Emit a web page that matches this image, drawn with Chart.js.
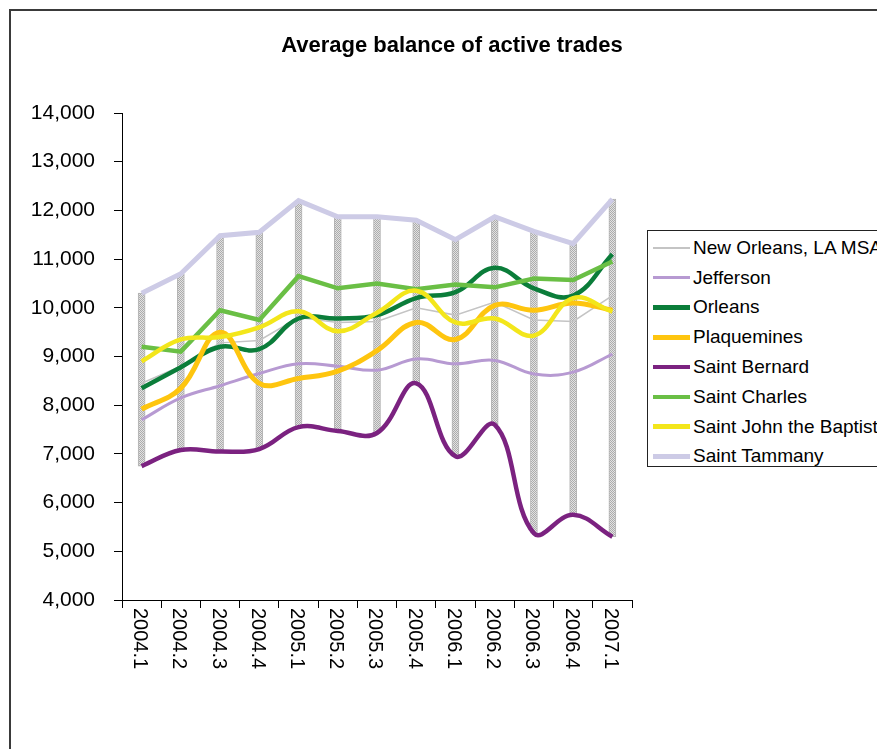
<!DOCTYPE html>
<html>
<head>
<meta charset="utf-8">
<title>Average balance of active trades</title>
<script src="https://cdn.jsdelivr.net/npm/chart.js@4/dist/chart.umd.min.js"></script>
<style>
  html, body { margin: 0; padding: 0; background: #fff; overflow: hidden; width: 877px; height: 749px; }
  #frame { position: absolute; left: 9px; top: 9px; width: 1000px; height: 1000px; border: 2px solid #3a3a3a; }
  #wrap { position: absolute; left: 0; top: 0; width: 900px; height: 780px; }
  #title { position: absolute; left: 0; top: 34px; width: 904px; text-align: center;
    font: bold 22px "Liberation Sans", Arial, sans-serif; line-height: 22px; color: #000; }
  #legend { position: absolute; left: 647px; top: 230px; width: 260px; height: 237px;
    border: 1px solid #222; background: #fff; padding-top: 2px; box-sizing: border-box;
    font: 19px "Liberation Sans", Arial, sans-serif; color: #000; }
  #legend .row { display: flex; align-items: center; height: 29.8px; white-space: nowrap; }
  #legend .swatch { width: 37px; margin-left: 5px; margin-right: 3px; }
</style>
</head>
<body>
<div id="frame"></div>
<div id="wrap"><canvas id="myChart" width="900" height="780"></canvas></div>
<div id="title">Average balance of active trades</div>
<div id="legend"></div>
<script>
const quarters = ['2004.1', '2004.2', '2004.3', '2004.4', '2005.1', '2005.2', '2005.3',
  '2005.4', '2006.1', '2006.2', '2006.3', '2006.4', '2007.1'];

const msa = [8450, 8800, 9280, 9330, 9800, 9700, 9720, 10000, 9850, 10120, 9750, 9720, 10250];
const jefferson = [7700, 8150, 8400, 8650, 8850, 8800, 8720, 8950, 8850, 8920, 8640, 8680, 9050];
const orleans = [8350, 8780, 9200, 9150, 9780, 9780, 9850, 10200, 10320, 10820, 10400, 10250, 11100];
const plaquemines = [7920, 8350, 9500, 8450, 8550, 8700, 9120, 9700, 9350, 10050, 9950, 10100, 9950];
const saintBernard = [6750, 7080, 7050, 7100, 7550, 7470, 7430, 8450, 6950, 7600, 5370, 5750, 5300];
const saintCharles = [9200, 9100, 9950, 9750, 10650, 10400, 10500, 10380, 10480, 10420, 10600, 10570, 10950];
const saintJohn = [8900, 9350, 9400, 9600, 9930, 9520, 9900, 10350, 9700, 9780, 9430, 10200, 9920];
const saintTammany = [10300, 10700, 11480, 11550, 12200, 11870, 11870, 11800, 11400, 11870, 11570, 11320, 12230];

const yTicks = { min: 4000, max: 14000, step: 1000 };

const series = [
  { label: 'New Orleans, LA MSA', data: msa, color: '#c4c4c4', width: 1.5, tension: 0 },
  { label: 'Jefferson', data: jefferson, color: '#b79ad2', width: 3, tension: 0.4 },
  { label: 'Orleans', data: orleans, color: '#0b7d3a', width: 4.5, tension: 0.4 },
  { label: 'Plaquemines', data: plaquemines, color: '#fec50f', width: 5, tension: 0.4 },
  { label: 'Saint Bernard', data: saintBernard, color: '#7b2280', width: 4.5, tension: 0.4 },
  { label: 'Saint Charles', data: saintCharles, color: '#6abf45', width: 4.5, tension: 0 },
  { label: 'Saint John the Baptist', data: saintJohn, color: '#f3e61b', width: 4.5, tension: 0.4 },
  { label: 'Saint Tammany', data: saintTammany, color: '#cdcbe6', width: 5, tension: 0 },
];

const FONT = '"Liberation Sans", Arial, sans-serif';

// high-low range per quarter
const ranges = quarters.map((q, i) => {
  const vals = series.map(s => s.data[i]);
  return [Math.min(...vals), Math.max(...vals)];
});

const makeHatch = () => {
  const c = document.createElement('canvas');
  c.width = 2;
  c.height = 2;
  const g = c.getContext('2d');
  g.fillStyle = '#e2e2e2';
  g.fillRect(0, 0, 2, 2);
  g.fillStyle = '#acacac';
  g.fillRect(0, 0, 1, 1);
  g.fillRect(1, 1, 1, 1);
  return g.createPattern(c, 'repeat');
};

// x labels read top-to-bottom, like the spreadsheet original
const downLabels = {
  id: 'downLabels',
  afterDraw(chart) {
    const scale = chart.scales.x;
    const { ctx } = chart;
    ctx.save();
    ctx.font = '20px ' + FONT;
    ctx.fillStyle = '#000';
    ctx.textAlign = 'left';
    ctx.textBaseline = 'middle';
    scale.ticks.forEach((tick, i) => {
      ctx.save();
      ctx.translate(scale.getPixelForTick(i) - 2, scale.top + 8);
      ctx.rotate(Math.PI / 2);
      ctx.fillText(scale.getLabelForValue(tick.value), 0, 0);
      ctx.restore();
    });
    ctx.restore();
  }
};

const datasets = series.map((s, i) => ({
  type: 'line',
  label: s.label,
  data: s.data,
  borderColor: s.color,
  backgroundColor: s.color,
  borderWidth: s.width,
  tension: s.tension,
  pointRadius: 0,
  fill: false,
  order: series.length - i,
}));

datasets.push({
  type: 'bar',
  label: 'range',
  data: ranges,
  backgroundColor: makeHatch(),
  borderColor: '#b4b4b4',
  borderWidth: 1,
  borderSkipped: false,
  barThickness: 7,
  order: 50,
});

new Chart(document.getElementById('myChart'), {
  data: { labels: quarters, datasets },
  options: {
    responsive: false,
    animation: false,
    devicePixelRatio: 1,
    layout: { padding: { left: 0, top: 113, right: 268, bottom: 0 } },
    plugins: {
      legend: { display: false },
      tooltip: { enabled: false },
    },
    scales: {
      x: {
        type: 'category',
        offset: true,
        grid: { display: true, drawOnChartArea: false, offset: true, tickLength: 8, color: '#000' },
        border: { display: true, color: '#000', width: 1 },
        ticks: { display: false },
        afterFit: (scale) => { scale.height = 180; },
      },
      y: {
        min: yTicks.min,
        max: yTicks.max,
        grid: { display: true, drawOnChartArea: false, tickLength: 8, color: '#000' },
        border: { display: true, color: '#000', width: 1 },
        ticks: {
          stepSize: yTicks.step,
          color: '#000',
          padding: 19,
          font: { size: 21, family: FONT },
          callback: (v) => v.toLocaleString('en-US'),
        },
        afterFit: (scale) => { scale.width = 122; },
      },
    },
  },
  plugins: [downLabels],
});

// legend box
const legend = document.getElementById('legend');
series.forEach((s) => {
  const row = document.createElement('div');
  row.className = 'row';
  const sw = document.createElement('span');
  sw.className = 'swatch';
  sw.style.height = s.width + 'px';
  sw.style.background = s.color;
  const txt = document.createElement('span');
  txt.textContent = s.label;
  row.append(sw, txt);
  legend.append(row);
});
</script>
</body>
</html>
